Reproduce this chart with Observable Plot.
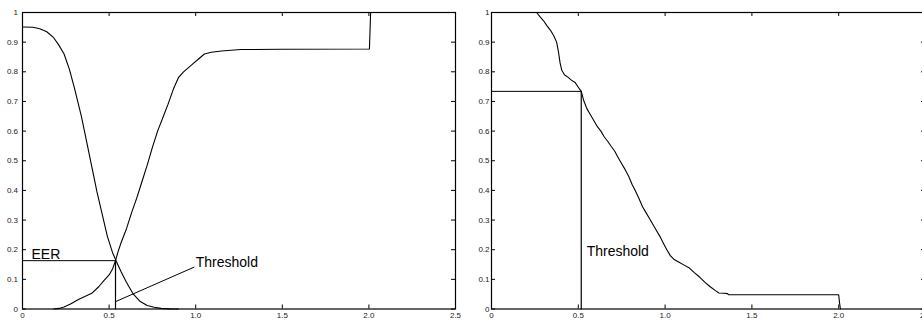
<!DOCTYPE html>
<html>
<head>
<meta charset="utf-8">
<script src="https://cdn.jsdelivr.net/npm/d3@7"></script>
<script src="https://cdn.jsdelivr.net/npm/@observablehq/plot@0.6"></script>
<style>
  html, body { margin: 0; padding: 0; background: #fff; }
  #wrap { width: 922px; height: 320px; overflow: hidden; display: flex; background: #fff; }
  #wrap svg { flex: none; }
</style>
</head>
<body>
<div id="wrap"></div>
<script>
// ---------- data ----------
const xTickValues = [0, 0.5, 1, 1.5, 2, 2.5];
const xTickLabels = ["0", "0.5", "1.0", "1.5", "2.0", "2.5"];
const yTickValues = [0, 0.1, 0.2, 0.3, 0.4, 0.5, 0.6, 0.7, 0.8, 0.9, 1];
const yTickLabels = ["0", "0.1", "0.2", "0.3", "0.4", "0.5", "0.6", "0.7", "0.8", "0.9", "1"];

// left panel: falling curve
const leftFallX = [0, 0.06, 0.10, 0.14, 0.18, 0.21, 0.24, 0.27, 0.30, 0.34, 0.37, 0.40, 0.43, 0.46, 0.49, 0.52, 0.54, 0.57, 0.60, 0.64, 0.68, 0.72, 0.76, 0.80, 0.85, 0.90];
const leftFallY = [0.951, 0.950, 0.945, 0.935, 0.915, 0.89, 0.86, 0.81, 0.745, 0.65, 0.565, 0.48, 0.395, 0.32, 0.245, 0.19, 0.163, 0.125, 0.09, 0.05, 0.025, 0.012, 0.006, 0.002, 0.0005, 0];

// left panel: rising curve
const leftRiseX = [0.18, 0.21, 0.24, 0.28, 0.32, 0.36, 0.40, 0.44, 0.47, 0.50, 0.52, 0.537, 0.55, 0.57, 0.60, 0.63, 0.66, 0.69, 0.72, 0.75, 0.78, 0.81, 0.84, 0.87, 0.90, 0.93, 0.96, 0.99, 1.02, 1.05, 1.09, 1.15, 1.26, 1.5, 2.0, 2.003, 2.01];
const leftRiseY = [0, 0.002, 0.007, 0.018, 0.031, 0.042, 0.053, 0.075, 0.096, 0.115, 0.135, 0.163, 0.19, 0.225, 0.27, 0.325, 0.375, 0.43, 0.485, 0.545, 0.6, 0.645, 0.69, 0.74, 0.78, 0.8, 0.815, 0.83, 0.845, 0.86, 0.866, 0.870, 0.875, 0.876, 0.877, 0.877, 1];

// right panel curve
const rightX = [0.26, 0.28, 0.30, 0.32, 0.34, 0.36, 0.375, 0.385, 0.395, 0.405, 0.42, 0.44, 0.46, 0.48, 0.50, 0.517, 0.53, 0.55, 0.57, 0.59, 0.61, 0.63, 0.65, 0.67, 0.69, 0.71, 0.73, 0.75, 0.77, 0.79, 0.81, 0.83, 0.85, 0.87, 0.89, 0.91, 0.93, 0.95, 0.97, 0.99, 1.01, 1.03, 1.05, 1.08, 1.11, 1.14, 1.17, 1.20, 1.23, 1.26, 1.29, 1.31, 1.34, 1.36, 1.365, 1.6, 2.0, 2.005, 2.01];
const rightY = [1.0, 0.985, 0.972, 0.955, 0.94, 0.92, 0.9, 0.87, 0.83, 0.805, 0.79, 0.782, 0.772, 0.765, 0.748, 0.734, 0.705, 0.675, 0.655, 0.635, 0.615, 0.6, 0.58, 0.565, 0.548, 0.532, 0.51, 0.49, 0.47, 0.448, 0.42, 0.397, 0.372, 0.345, 0.325, 0.305, 0.285, 0.265, 0.245, 0.222, 0.2, 0.18, 0.168, 0.158, 0.148, 0.138, 0.122, 0.107, 0.09, 0.075, 0.062, 0.054, 0.053, 0.052, 0.048, 0.048, 0.048, 0.02, 0];

// annotations
const leftThreshold = 0.537;
const leftEER = 0.163;
const leftPointerX = [0.542, 0.99];
const leftPointerY = [0.026, 0.141];
const leftLabels = [
  {x: 0.052, y: 0.167, text: "EER"},
  {x: 1.0, y: 0.141, text: "Threshold"}
];
const rightThreshold = 0.517;
const rightLevel = 0.734;
const rightLabels = [
  {x: 0.548, y: 0.18, text: "Threshold"}
];

// ---------- helpers ----------
const toPts = (xs, ys) => xs.map((x, i) => ({x, y: ys[i]}));
const FONT = "'Liberation Sans', Arial, Helvetica, sans-serif";
const xFmt = d => xTickLabels[xTickValues.indexOf(d)];
const yFmt = d => yTickLabels[yTickValues.indexOf(d)];

const HEIGHT = 320, MT = 12, MB = 11.5, TICK = 4;

function axes(plotW, yPad) {
  // tick length converted from pixels to data units
  const ty = TICK / (HEIGHT - MT - MB);
  const tx = 2.5 * TICK / plotW;
  return [
    Plot.ruleX(xTickValues, {x: d => d, y1: 0, y2: ty, stroke: "#000", strokeWidth: 1}),
    Plot.ruleX(xTickValues, {x: d => d, y1: 1 - ty, y2: 1, stroke: "#000", strokeWidth: 1}),
    Plot.ruleY(yTickValues, {y: d => d, x1: 0, x2: tx, stroke: "#000", strokeWidth: 1}),
    Plot.ruleY(yTickValues, {y: d => d, x1: 2.5 - tx, x2: 2.5, stroke: "#000", strokeWidth: 1}),
    Plot.axisX(xTickValues, {anchor: "bottom", tickSize: 0, tickPadding: 3, tickFormat: xFmt, label: null, fontSize: 8, fill: "#222"}),
    Plot.axisY(yTickValues, {anchor: "left", tickSize: 0, tickPadding: yPad, tickFormat: yFmt, label: null, fontSize: 8, fill: "#222"}),
    Plot.frame({stroke: "#000", strokeWidth: 1.2})
  ];
}

function makePlot(width, marginLeft, marginRight, yPad, marks) {
  return Plot.plot({
    width, height: HEIGHT,
    marginLeft, marginRight, marginTop: MT, marginBottom: MB,
    x: {domain: [0, 2.5]},
    y: {domain: [0, 1]},
    style: {fontFamily: FONT, background: "#fff", overflow: "visible"},
    marks: [...marks, ...axes(width - marginLeft - marginRight, yPad)]
  });
}

const lineStyle = {x: "x", y: "y", stroke: "#000", strokeWidth: 1.1, curve: "linear"};
const textStyle = {x: "x", y: "y", text: "text", textAnchor: "start", lineAnchor: "bottom", fontSize: 14, fill: "#000"};

const left = makePlot(461, 22, 6, 4.5, [
  Plot.line(toPts(leftFallX, leftFallY), lineStyle),
  Plot.line(toPts(leftRiseX, leftRiseY), lineStyle),
  Plot.line(toPts([0, leftThreshold], [leftEER, leftEER]), {x: "x", y: "y", stroke: "#000", strokeWidth: 1}),
  Plot.line(toPts([leftThreshold, leftThreshold], [leftEER, 0]), {x: "x", y: "y", stroke: "#000", strokeWidth: 1.2}),
  Plot.line(toPts(leftPointerX, leftPointerY), {x: "x", y: "y", stroke: "#000", strokeWidth: 1}),
  Plot.text(leftLabels, textStyle)
]);

const right = makePlot(470, 30, 6, 2, [
  Plot.line(toPts(rightX, rightY), lineStyle),
  Plot.line(toPts([0, rightThreshold], [rightLevel, rightLevel]), {x: "x", y: "y", stroke: "#000", strokeWidth: 1}),
  Plot.line(toPts([rightThreshold, rightThreshold], [rightLevel, 0]), {x: "x", y: "y", stroke: "#000", strokeWidth: 1.2}),
  Plot.text(rightLabels, textStyle)
]);

const wrap = document.getElementById("wrap");
wrap.appendChild(left);
wrap.appendChild(right);
</script>
</body>
</html>
